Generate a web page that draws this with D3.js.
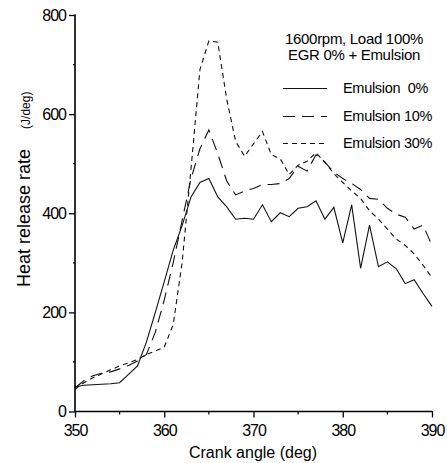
<!DOCTYPE html>
<html>
<head>
<meta charset="utf-8">
<script src="https://cdn.jsdelivr.net/npm/d3@7"></script>
<style>
  html, body { margin: 0; padding: 0; background: #fff; }
  svg { display: block; }
  text { font-family: "Liberation Sans", Arial, sans-serif; fill: #000; }
</style>
</head>
<body>
<svg id="chart" width="447" height="463"></svg>
<script>
// ---- data ----
const crankAngle = [350,351,352,353,354,355,356,357,358,359,360,361,362,363,364,365,366,367,368,369,370,
                    371,372,373,374,375,376,377,378,379,380,381,382,383,384,385,386,387,388,389,390];
const emulsion0  = [50,53,54,55,56,58,75,92,140,200,262,325,375,433,462,470,433,413,388,390,388,
                    417,383,401,393,410,413,425,388,412,340,417,289,376,292,302,288,258,266,238,212];
const emulsion10 = [48,62,72,77,80,86,93,102,115,160,225,300,385,470,530,568,520,465,437,445,450,
                    458,458,460,470,495,485,518,503,483,470,460,448,430,428,410,398,392,368,376,335];
const emulsion30 = [45,58,68,76,84,92,98,105,115,122,130,175,300,490,690,748,745,630,545,515,540,
                    565,518,510,478,497,505,522,503,480,462,445,430,405,388,368,348,335,318,295,270];
const seriesNames = ["Emulsion  0%", "Emulsion 10%", "Emulsion 30%"];
const titleLines = ["1600rpm, Load 100%", "EGR 0% + Emulsion"];
const xTicks = [350, 360, 370, 380, 390];
const yTicks = [0, 200, 400, 600, 800];
const xMinor = [355, 365, 375, 385];
const yMinor = [100, 300, 500, 700];

// ---- layout ----
const svg = d3.select("#chart");
const x = d3.scaleLinear().domain([350, 390]).range([75, 432]);
const y = d3.scaleLinear().domain([0, 800]).range([411.5, 15]);

const series = [
  { name: seriesNames[0], values: emulsion0,  dash: null },
  { name: seriesNames[1], values: emulsion10, dash: "12,7" },
  { name: seriesNames[2], values: emulsion30, dash: "5,4" }
];

const line = d3.line()
  .x((d, i) => x(crankAngle[i]))
  .y(d => y(d));

svg.selectAll("path.series")
  .data(series)
  .enter().append("path")
  .attr("class", "series")
  .attr("d", d => line(d.values))
  .attr("fill", "none")
  .attr("stroke", "#111")
  .attr("stroke-width", 1.1)
  .attr("stroke-dasharray", d => d.dash);

// axes
const xAxis = svg.append("g").attr("transform", `translate(0,${y(0)})`)
  .call(d3.axisBottom(x).tickValues(xTicks).tickSize(6).tickPadding(3).tickFormat(d3.format("d")));
const yAxis = svg.append("g").attr("transform", `translate(${x(350)},0)`)
  .call(d3.axisLeft(y).tickValues(yTicks).tickSize(6).tickPadding(3).tickFormat(d3.format("d")));

[xAxis, yAxis].forEach(g => {
  g.select(".domain").attr("stroke", "#000").attr("stroke-width", 1.6);
  g.selectAll(".tick line").attr("stroke", "#000").attr("stroke-width", 1.3);
  g.selectAll(".tick text")
    .style("font-family", "'Liberation Sans', Arial, sans-serif")
    .style("font-size", "16px").style("letter-spacing", "-1px").attr("fill", "#000");
});
xAxis.selectAll(".tick text").attr("dy", "0.95em");
xAxis.select(".domain").attr("d", `M${x(350)},0H${x(390)}V-0.5`);
yAxis.select(".domain").attr("d", `M0,${y(0)}V${y(800)}H-0.5`);

// minor ticks
svg.selectAll("line.xminor").data(xMinor).enter().append("line")
  .attr("x1", d => x(d)).attr("x2", d => x(d))
  .attr("y1", y(0)).attr("y2", y(0) + 3)
  .attr("stroke", "#000").attr("stroke-width", 1.2);
svg.selectAll("line.yminor").data(yMinor).enter().append("line")
  .attr("x1", x(350)).attr("x2", x(350) - 2)
  .attr("y1", d => y(d)).attr("y2", d => y(d))
  .attr("stroke", "#000").attr("stroke-width", 1.2);

// axis titles
svg.append("text")
  .attr("x", 253).attr("y", 458)
  .attr("text-anchor", "middle")
  .style("font-size", "16px")
  .text("Crank angle (deg)");

const yTitle = svg.append("text")
  .attr("transform", "translate(30,287) rotate(-90)")
  .attr("text-anchor", "start");
yTitle.append("tspan").style("font-size", "18px").text("Heat release rate");
yTitle.append("tspan").attr("dx", 20).style("font-size", "12px").text("(J/deg)");

// legend title
svg.selectAll("text.ltitle").data(titleLines).enter().append("text")
  .attr("class", "ltitle")
  .attr("x", 354).attr("y", (d, i) => 44 + i * 15.5)
  .attr("text-anchor", "middle")
  .style("font-size", "15px").style("letter-spacing", "-0.3px")
  .text(d => d);

// legend entries
const legendY = [88.5, 116.5, 143.5];
const lg = svg.selectAll("g.legend").data(series).enter().append("g")
  .attr("class", "legend")
  .attr("transform", (d, i) => `translate(0,${legendY[i]})`);
lg.append("line")
  .attr("x1", 283).attr("x2", 327).attr("y1", 0).attr("y2", 0)
  .attr("stroke", "#111").attr("stroke-width", 1.1)
  .attr("stroke-dasharray", d => d.dash);
lg.append("text")
  .attr("x", 343).attr("y", 4.5)
  .style("font-size", "14.5px").style("white-space", "pre").style("letter-spacing", "-0.3px")
  .text(d => d.name);
</script>
</body>
</html>
